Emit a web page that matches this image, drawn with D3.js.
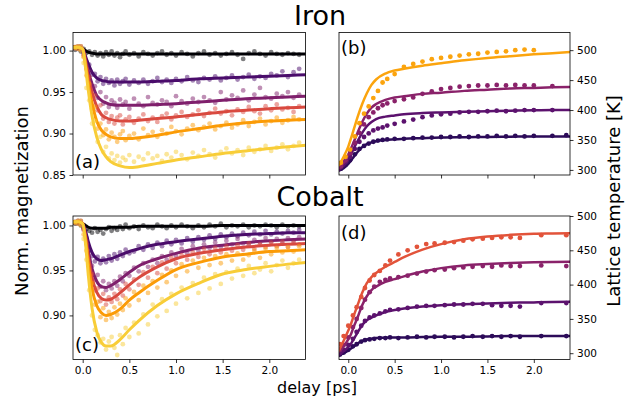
<!DOCTYPE html>
<html>
<head>
<meta charset="utf-8">
<script src="https://cdn.jsdelivr.net/npm/d3@7"></script>
<style>
  body { margin: 0; background: #fff; }
  svg text { font-family: "DejaVu Sans", sans-serif; }
</style>
</head>
<body>
<svg width="639" height="403"></svg>
<script>
// delays [ps] of the fitted curves (all four panels)
const fitDelays = [-0.1,-0.05,0,0.03,0.06,0.1,0.15,0.2,0.25,0.3,0.4,0.5,0.6,0.8,1.0,1.25,1.5,1.75,2.0,2.2,2.4]

// delays of the measured magnetization points (a, c)
const magDelays = [-0.08,-0.05,-0.02,0.01,0.04,0.07,0.1,0.13,0.16,0.19,0.22,0.25,0.28,0.31,0.34,0.37,0.4,0.43,0.46,0.5,
  0.55,0.6,0.65,0.7,0.75,0.8,0.85,0.9,0.95,1.0,1.06,1.12,1.18,1.24,1.3,1.36,1.42,1.48,1.54,1.6,
  1.66,1.72,1.78,1.84,1.9,1.96,2.02,2.08,2.14,2.2,2.26,2.32]

// (a) iron, norm. magnetization fits, low -> high fluence
const ironMagFit = [
  [1.003,1.003,1.002,1.000,0.998,0.997,0.996,0.996,0.996,0.996,0.996,0.996,0.996,0.996,0.996,0.996,0.996,0.996,0.996,0.996,0.996],
  [1.004,1.004,1.002,0.993,0.984,0.974,0.967,0.964,0.963,0.962,0.962,0.962,0.962,0.963,0.964,0.966,0.967,0.968,0.969,0.970,0.971],
  [1.004,1.004,1.002,0.990,0.975,0.960,0.946,0.940,0.937,0.935,0.934,0.934,0.934,0.935,0.936,0.938,0.940,0.942,0.943,0.944,0.945],
  [1.004,1.004,1.002,0.987,0.968,0.950,0.933,0.923,0.919,0.917,0.915,0.915,0.916,0.918,0.920,0.923,0.926,0.928,0.930,0.931,0.932],
  [1.004,1.004,1.002,0.983,0.960,0.937,0.915,0.904,0.899,0.896,0.894,0.894,0.895,0.898,0.902,0.906,0.910,0.913,0.915,0.916,0.917],
  [1.004,1.004,1.002,0.980,0.952,0.921,0.896,0.881,0.872,0.866,0.861,0.859,0.860,0.864,0.868,0.872,0.876,0.879,0.882,0.884,0.886]
]

// (a) iron, measured points
const ironMagData = [
  [1.001,1.003,0.999,1.002,0.997,0.999,0.995,0.998,0.994,0.997,0.993,0.998,0.995,0.999,0.994,0.997,0.992,0.996,0.999,0.995,
   0.997,0.993,0.998,0.996,0.994,0.997,0.999,0.995,0.997,0.994,0.998,0.996,0.993,0.997,0.999,0.995,0.997,0.994,0.996,0.998,
   0.995,0.990,0.997,0.999,0.996,0.994,0.998,0.996,0.995,0.997,0.996,0.995],
  [1.003,1.005,1.001,0.998,0.986,0.983,0.971,0.972,0.963,0.968,0.960,0.966,0.961,0.964,0.958,0.965,0.960,0.963,0.966,0.959,
   0.964,0.961,0.965,0.960,0.963,0.967,0.962,0.965,0.961,0.966,0.963,0.968,0.964,0.962,0.967,0.965,0.969,0.964,0.967,0.970,
   0.965,0.968,0.971,0.966,0.969,0.967,0.972,0.970,0.975,0.968,0.974,0.978],
  [1.004,1.002,1.005,0.996,0.981,0.975,0.955,0.957,0.943,0.950,0.936,0.944,0.932,0.940,0.937,0.931,0.941,0.935,0.938,0.930,
   0.942,0.936,0.933,0.944,0.937,0.935,0.940,0.938,0.933,0.945,0.939,0.936,0.942,0.938,0.944,0.940,0.937,0.950,0.941,0.946,
   0.943,0.952,0.940,0.947,0.955,0.944,0.942,0.948,0.945,0.950,0.943,0.947],
  [1.003,1.005,1.001,0.994,0.978,0.968,0.944,0.946,0.928,0.934,0.918,0.925,0.914,0.921,0.912,0.919,0.922,0.911,0.917,0.920,
   0.913,0.918,0.923,0.915,0.919,0.914,0.921,0.924,0.917,0.922,0.926,0.920,0.923,0.928,0.921,0.925,0.930,0.924,0.927,0.922,
   0.929,0.926,0.932,0.927,0.924,0.933,0.928,0.935,0.929,0.931,0.926,0.933],
  [1.004,1.002,1.005,0.992,0.970,0.960,0.930,0.932,0.906,0.912,0.898,0.905,0.893,0.901,0.896,0.890,0.899,0.903,0.892,0.897,
   0.900,0.893,0.906,0.898,0.902,0.896,0.904,0.900,0.908,0.903,0.899,0.906,0.910,0.904,0.908,0.912,0.905,0.909,0.913,0.907,
   0.911,0.916,0.909,0.914,0.918,0.911,0.915,0.919,0.913,0.916,0.920,0.917],
  [1.003,1.005,1.000,0.985,0.955,0.940,0.912,0.915,0.890,0.896,0.878,0.884,0.870,0.876,0.868,0.873,0.865,0.871,0.868,0.874,
   0.866,0.872,0.869,0.876,0.870,0.873,0.867,0.875,0.871,0.878,0.874,0.869,0.877,0.873,0.880,0.875,0.871,0.878,0.882,0.876,
   0.880,0.874,0.883,0.878,0.881,0.885,0.879,0.883,0.887,0.881,0.885,0.889]
]

// (c) cobalt, norm. magnetization fits
const cobaltMagFit = [
  [1.003,1.003,1.002,1.000,0.998,0.997,0.997,0.997,0.997,0.998,0.998,0.998,0.999,0.999,0.999,0.999,1.000,1.000,1.000,1.000,1.000],
  [1.004,1.004,1.002,0.994,0.982,0.970,0.963,0.961,0.962,0.963,0.967,0.971,0.974,0.979,0.982,0.985,0.988,0.990,0.991,0.992,0.992],
  [1.004,1.004,1.002,0.990,0.972,0.952,0.938,0.932,0.931,0.933,0.940,0.948,0.955,0.963,0.969,0.975,0.978,0.981,0.983,0.984,0.985],
  [1.004,1.004,1.002,0.988,0.966,0.942,0.926,0.919,0.917,0.918,0.925,0.934,0.942,0.954,0.963,0.969,0.973,0.976,0.978,0.979,0.980],
  [1.004,1.004,1.002,0.985,0.958,0.930,0.911,0.903,0.900,0.901,0.907,0.917,0.925,0.939,0.951,0.959,0.965,0.968,0.971,0.972,0.973],
  [1.004,1.004,1.002,0.980,0.945,0.908,0.882,0.870,0.866,0.866,0.873,0.884,0.894,0.911,0.924,0.936,0.946,0.951,0.9545,0.957,0.959]
]

// (c) cobalt, measured points
const cobaltMagData = [
  [1.002,1.004,1.000,0.998,0.996,0.994,0.992,0.997,0.993,0.995,0.991,0.996,0.998,0.994,0.997,0.995,0.999,0.996,1.001,0.997,
   0.999,0.996,1.000,0.998,0.997,1.001,0.999,0.997,1.000,0.998,1.001,0.999,0.997,1.000,0.998,1.001,0.999,1.002,0.998,1.000,
   0.999,1.001,0.998,1.000,0.999,1.001,1.000,0.998,1.001,0.999,1.000,0.999],
  [1.003,1.005,1.001,0.996,0.986,0.972,0.966,0.960,0.965,0.958,0.963,0.959,0.966,0.961,0.968,0.963,0.970,0.966,0.973,0.969,
   0.971,0.977,0.973,0.979,0.975,0.981,0.977,0.983,0.979,0.984,0.980,0.986,0.982,0.987,0.984,0.989,0.985,0.990,0.987,0.991,
   0.988,0.992,0.989,0.993,0.990,0.994,0.990,0.993,0.991,0.994,0.992,0.995],
  [1.004,1.002,1.005,0.997,0.983,0.962,0.955,0.940,0.945,0.932,0.938,0.928,0.935,0.930,0.938,0.933,0.943,0.938,0.947,0.944,
   0.953,0.949,0.958,0.954,0.962,0.958,0.966,0.962,0.970,0.966,0.974,0.969,0.977,0.972,0.979,0.975,0.981,0.976,0.983,0.979,
   0.985,0.980,0.978,0.984,0.981,0.986,0.982,0.985,0.980,0.986,0.983,0.987],
  [1.003,1.005,1.001,0.995,0.980,0.956,0.946,0.928,0.930,0.916,0.924,0.912,0.920,0.915,0.924,0.918,0.929,0.922,0.935,0.929,
   0.940,0.934,0.948,0.942,0.954,0.947,0.959,0.952,0.964,0.958,0.967,0.962,0.970,0.965,0.974,0.968,0.975,0.970,0.977,0.972,
   0.978,0.973,0.980,0.974,0.979,0.976,0.981,0.977,0.982,0.976,0.981,0.979],
  [1.004,1.002,1.005,0.990,0.972,0.945,0.936,0.912,0.915,0.898,0.908,0.895,0.904,0.897,0.909,0.901,0.913,0.906,0.919,0.911,
   0.926,0.917,0.933,0.925,0.938,0.931,0.945,0.937,0.950,0.944,0.957,0.949,0.961,0.953,0.964,0.956,0.966,0.958,0.968,0.961,
   0.969,0.962,0.967,0.972,0.964,0.974,0.968,0.975,0.970,0.976,0.971,0.977],
  [1.003,1.005,1.000,0.985,0.962,0.928,0.900,0.884,0.878,0.870,0.874,0.862,0.871,0.876,0.864,0.856,0.878,0.868,0.886,0.876,
   0.892,0.880,0.901,0.890,0.912,0.899,0.918,0.905,0.924,0.913,0.931,0.919,0.936,0.925,0.942,0.930,0.946,0.935,0.948,0.941,
   0.952,0.944,0.955,0.947,0.951,0.958,0.949,0.956,0.961,0.953,0.958,0.962]
]

// (b) iron, lattice temperature [K]
const ironTempFit = [
  [299,303,310,316,322,330,338,343,346,348,350,351,352,353,354,354.5,355,355.5,356,356,356],
  [300,307,317,326,336,348,362,373,380,385,389,391,393,395,396,397,398,399,399.5,400,400],
  [303,312,325,336,347,362,380,394,404,410,417,421,423,427,429,432,434,436,437,438,438.5],
  [308,322,339,353,368,388,410,428,442,451,461,466,469,474,478,483,487,490,493,495,497]
]
const ironTempDelays = [-0.08,-0.03,0.02,0.07,0.12,0.17,0.22,0.27,0.32,0.37,0.42,0.5,0.6,0.7,0.8,0.9,1.0,1.1,1.2,1.3,
  1.4,1.5,1.6,1.7,1.8,1.9,2.0,2.2,2.35]
const ironTempData = [
  [302,308,316,326,335,340,344,347,349,350,351,352,352,353,354,354,355,355,356,355,356,356,357,356,357,356,357,357,358],
  [305,313,322,335,347,355,361,366,369,371,374,377,381,384,388,391,393,394,396,397,397,398,399,398,399,400,400,400,null],
  [306,316,328,345,362,376,388,396,403,408,411,415,418,421,427,431,435,437,439,440,441,441,442,441,442,441,441,440,null],
  [312,322,334,356,378,394,406,420,432,446,452,460,472,477,481,485,487,489,491,493,494,496,497,498,500,501,500,null,null]
]

// (d) cobalt, lattice temperature [K]
const cobaltTempFit = [
  [297,300,304,307,310,314,318,320,321,322,322.5,323,323,323.5,324,324,324.5,325,325,325,325],
  [298,303,309,314,321,330,341,348,352,355,360,363,365,368,370,371.5,372.5,373.5,374,374.5,375],
  [302,310,320,328,339,352,370,383,392,397,404,408,412,419,424,428,430,431.5,432.5,433,433.5],
  [304,318,333,343,355,370,388,402,411,417,426,433,440,451,459,466,470,472.5,474,474.5,475]
]
const cobaltTempDelays = [-0.09,-0.05,0.0,0.05,0.09,0.14,0.18,0.23,0.28,0.34,0.4,0.45,0.54,0.64,0.74,0.84,0.93,1.04,1.14,1.24,
  1.34,1.45,1.55,1.65,1.75,1.85,2.08,2.35]
const cobaltTempData = [
  [298,301,305,310,313,317,319,320,321,322,322,323,322,323,324,323,324,324,323,324,325,324,325,324,325,324,325,325],
  [300,305,312,321,331,340,347,352,355,358,361,363,364,366,368,369,369,370,371,371,372,372,370,369,369,368,373,373],
  [305,312,323,338,350,366,378,389,397,404,407,409,411,413,416,419,421,422,424,425,426,427,426,428,427,427,428,427],
  [313,325,340,355,367,382,395,406,414,420,428,435,444,450,455,459,460,461,462,464,466,467,468,469,469,468,472,472]
]

// ticks
const delayTicks = [0, 0.5, 1.0, 1.5, 2.0]
const ironMagTicks = [0.85, 0.90, 0.95, 1.00]
const cobaltMagTicks = [0.90, 0.95, 1.00]
const tempTicks = [300, 350, 400, 450, 500]

const magColors = ["#000004", "#4a0c6b", "#7f1f6c", "#d9493f", "#fb9b06", "#f8cd37"]
const ironTempColors = ["#2c0b59", "#5c126e", "#8a226a", "#fba40e"]
const cobaltTempColors = ["#2c0b59", "#5c126e", "#8a226a", "#e2533a"]

let svg = d3.select("svg")

function drawPanel(p) {
  let x = d3.scaleLinear().domain(p.xDomain).range([p.left, p.right])
  let y = d3.scaleLinear().domain(p.yDomain).range([p.bottom, p.top])

  svg.append("clipPath").attr("id", "clip-" + p.name)
    .append("rect")
    .attr("x", p.left).attr("y", p.top)
    .attr("width", p.right - p.left).attr("height", p.bottom - p.top)

  let g = svg.append("g").attr("clip-path", "url(#clip-" + p.name + ")")

  let line = d3.line()
    .x(d => x(d[0]))
    .y(d => y(d[1]))
    .curve(d3.curveMonotoneX)

  p.fit.forEach((vals, i) => {
    let fitPts = fitDelays.map((t, j) => [t, vals[j]])
    let dataPts = p.dataDelays.map((t, j) => [t, p.data[i][j]]).filter(d => d[1] != null)

    let drawDots = () => g.append("g")
      .selectAll("circle")
      .data(dataPts)
      .join("circle")
      .attr("cx", d => x(d[0]))
      .attr("cy", d => y(d[1]))
      .attr("r", p.dotR)
      .attr("fill", p.colors[i])
      .attr("fill-opacity", p.dotAlpha)
    let drawLine = () => g.append("path")
      .datum(fitPts)
      .attr("fill", "none")
      .attr("stroke", p.colors[i])
      .attr("stroke-width", p.lineW)
      .attr("stroke-linejoin", "round")
      .attr("stroke-linecap", "round")
      .attr("d", line)

    if (p.dotsFirst) { drawDots(); drawLine() }
    else { drawLine(); drawDots() }
  })

  // x axis
  let xAxis = d3.axisBottom(x).tickValues(delayTicks).tickSize(3.5).tickPadding(3.5).tickSizeOuter(0)
    .tickFormat(p.xLabels ? d3.format(".1f") : "")
  let gx = svg.append("g").attr("transform", "translate(0," + p.bottom + ")").call(xAxis)

  // y axis, left or right
  let yAxis = (p.yRight ? d3.axisRight(y) : d3.axisLeft(y))
    .tickValues(p.yTicks).tickSize(3.5).tickPadding(3.5).tickSizeOuter(0)
    .tickFormat(p.yFormat)
  let gy = svg.append("g")
    .attr("transform", "translate(" + (p.yRight ? p.right : p.left) + ",0)")
    .call(yAxis)

  ;[gx, gy].forEach(a => {
    a.select(".domain").remove()
    a.selectAll(".tick line").attr("stroke", "#000").attr("stroke-width", 0.8)
    a.selectAll(".tick text").attr("fill", "#000").style("font-size", "10.5px")
      .style("font-family", "DejaVu Sans")
  })

  svg.append("rect")
    .attr("x", p.left).attr("y", p.top)
    .attr("width", p.right - p.left).attr("height", p.bottom - p.top)
    .attr("fill", "none").attr("stroke", "#000").attr("stroke-width", 0.8)

  svg.append("text")
    .attr("x", p.left + 2).attr("y", p.labelY)
    .style("font-size", "18px")
    .text(p.label)
}

drawPanel({ name: "a", left: 73, right: 305.5, top: 32.5, bottom: 175,
  xDomain: [-0.104, 2.388], yDomain: [0.85, 1.0218],
  fit: ironMagFit, data: ironMagData, dataDelays: magDelays, colors: magColors,
  dotR: 2.4, dotAlpha: 0.5, lineW: 3, dotsFirst: true,
  xLabels: false, yTicks: ironMagTicks, yFormat: d3.format(".2f"), yRight: false,
  label: "(a)", labelY: 168 })

drawPanel({ name: "b", left: 339, right: 570, top: 32.5, bottom: 175,
  xDomain: [-0.1, 2.39], yDomain: [291.5, 529.5],
  fit: ironTempFit, data: ironTempData, dataDelays: ironTempDelays, colors: ironTempColors,
  dotR: 2.4, dotAlpha: 1, lineW: 2.5, dotsFirst: false,
  xLabels: false, yTicks: tempTicks, yFormat: d3.format("d"), yRight: true,
  label: "(b)", labelY: 54 })

drawPanel({ name: "c", left: 73, right: 305.5, top: 216, bottom: 359.5,
  xDomain: [-0.104, 2.388], yDomain: [0.851, 1.0105],
  fit: cobaltMagFit, data: cobaltMagData, dataDelays: magDelays, colors: magColors,
  dotR: 2.4, dotAlpha: 0.5, lineW: 3, dotsFirst: true,
  xLabels: true, yTicks: cobaltMagTicks, yFormat: d3.format(".2f"), yRight: false,
  label: "(c)", labelY: 351 })

drawPanel({ name: "d", left: 339, right: 570, top: 216, bottom: 359.5,
  xDomain: [-0.1, 2.39], yDomain: [290.8, 500],
  fit: cobaltTempFit, data: cobaltTempData, dataDelays: cobaltTempDelays, colors: cobaltTempColors,
  dotR: 2.4, dotAlpha: 1, lineW: 2.5, dotsFirst: false,
  xLabels: true, yTicks: tempTicks, yFormat: d3.format("d"), yRight: true,
  label: "(d)", labelY: 239 })

// titles and axis labels
svg.append("text").attr("x", 320).attr("y", 25).attr("text-anchor", "middle")
  .style("font-size", "27px").text("Iron")
svg.append("text").attr("x", 320).attr("y", 206).attr("text-anchor", "middle")
  .style("font-size", "27px").text("Cobalt")
svg.append("text").attr("transform", "translate(28,201) rotate(-90)").attr("text-anchor", "middle")
  .style("font-size", "18px").text("Norm. magnetization")
svg.append("text").attr("transform", "translate(620,201) rotate(-90)").attr("text-anchor", "middle")
  .style("font-size", "18px").text("Lattice temperature [K]")
svg.append("text").attr("x", 317).attr("y", 393).attr("text-anchor", "middle")
  .style("font-size", "16px").text("delay [ps]")
</script>
</body>
</html>
